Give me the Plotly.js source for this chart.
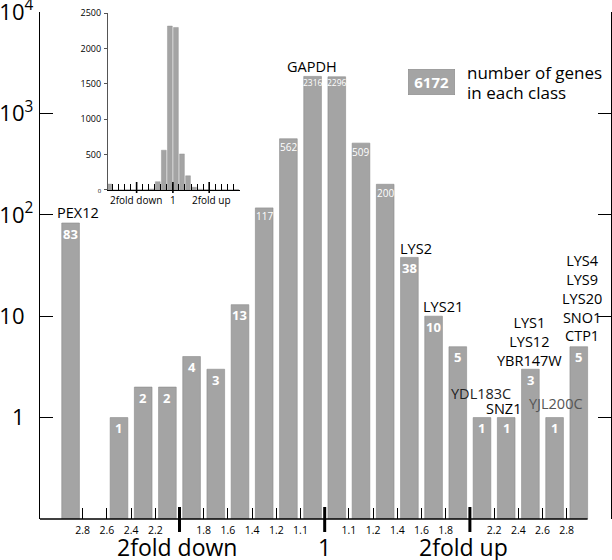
<!DOCTYPE html>
<html>
<head>
<meta charset="utf-8">
<script src="https://cdn.plot.ly/plotly-3.0.1.min.js"></script>
<style>html,body{margin:0;padding:0;background:#fff}#chart{width:612px;height:560px}</style>
</head>
<body>
<div id="chart"></div>
<script>
// ---------- DATA ----------
const binNames = ['>2.8 down','2.8-2.6 down','2.6-2.4 down','2.4-2.2 down','2.2-2.0 down','2.0-1.8 down','1.8-1.6 down','1.6-1.4 down','1.4-1.2 down','1.2-1.1 down','1.1-1.0 down','1.0-1.1 up','1.1-1.2 up','1.2-1.4 up','1.4-1.6 up','1.6-1.8 up','1.8-2.0 up','2.0-2.2 up','2.2-2.4 up','2.4-2.6 up','2.6-2.8 up','>2.8 up'];
const geneCounts = [83, 0, 1, 2, 2, 4, 3, 13, 117, 562, 2316, 2296, 509, 200, 38, 10, 5, 1, 1, 3, 1, 5];
const boundaryLabels = ['2.8','2.6','2.4','2.2','2fold down','1.8','1.6','1.4','1.2','1.1','1','1.1','1.2','1.4','1.6','1.8','2fold up','2.2','2.4','2.6','2.8'];
const majorBoundaries = ['2fold down','1','2fold up'];
const noteBins = [0, 10, 14, 15, 17, 18, 19, 20, 21];
const noteTexts = ['PEX12','GAPDH','LYS2','LYS21','YDL183C','SNZ1','LYS1<br>LYS12<br>YBR147W','YJL200C','LYS4<br>LYS9<br>LYS20<br>SNO1<br>CTP1'];
const logTickVals = [1, 10, 100, 1000, 10000];
const hid = '<sup style="color:rgba(0,0,0,0)">0</sup>';
const logTickText = ['1' + hid, '10' + hid, '10<sup>2</sup>', '10<sup>3</sup>', '10<sup>4</sup>'];
const insetTickVals = [0, 500, 1000, 1500, 2000, 2500];
const insetTickText = ['<span style="font-size:6px">0</span>', '500', '1000', '1500', '2000', '2500'];
const legendLines = ['number of genes', 'in each class'];

// ---------- STYLE ----------
const FONT = 'Open Sans, sans-serif';
const BAR = '#a4a4a4', BAR_LINE = '#8a8a8a';
const noteOffsets = [[7,11],[-1,10],[7,9],[9,10],[-1,24],[-3,9],[-1,28],[1,14],[3,48.5]];
const noteColors = ['#000','#000','#000','#000','#222','#000','#000','#555','#000'];
const mainRange = [-1.764, 21.831];
const insetRange = [-0.74, 21.07];
const mainBarWidth = 0.73, insetBarWidth = 0.8;
const legendLineY = [(519 - 73) / 507, (519 - 92) / 507];

const centers = geneCounts.map((_, i) => i - 0.5);
const boundaryPos = boundaryLabels.map((_, i) => i);
const majorPos = boundaryPos.filter(i => majorBoundaries.includes(boundaryLabels[i]) && [4,10,16].includes(i));
const minorPos = boundaryPos.filter(i => !majorPos.includes(i));
const total = geneCounts.reduce((a, b) => a + b, 0);

const traces = [
  {type:'bar', x:centers, y:geneCounts, width:mainBarWidth, hovertext:binNames, hoverinfo:'text+y',
   marker:{color:BAR, line:{color:BAR_LINE, width:0.6}}, xaxis:'x', yaxis:'y'},
  {type:'bar', x:centers, y:geneCounts, width:insetBarWidth, hoverinfo:'none',
   marker:{color:BAR, line:{color:BAR_LINE, width:0.4}}, xaxis:'x2', yaxis:'y2'}
];

const annotations = [];
geneCounts.forEach((v, i) => {
  if (v <= 0) return;
  const big = v >= 100;
  annotations.push({x:centers[i], y:Math.log10(v), xref:'x', yref:'y', text:String(v),
    showarrow:false, yanchor:'middle', yshift: big ? (v >= 1000 ? -6 : -8.5) : -10.5,
    font:{family:FONT, color:'#fff', size: big ? (v >= 1000 ? 8.5 : 10) : 13, weight: big ? 400 : 700}});
});
noteBins.forEach((b, k) => {
  annotations.push({x:centers[b], y:Math.log10(geneCounts[b]), xref:'x', yref:'y', text:noteTexts[k],
    showarrow:false, yanchor:'middle', xanchor:'center', xshift:noteOffsets[k][0], yshift:noteOffsets[k][1],
    font:{family:FONT, size:14.5, color:noteColors[k]}});
});
const bigShift = {'2fold down':-2, '1':0, '2fold up':-6};
const insetShift = {'2fold down':-1, '1':0, '2fold up':2};
majorPos.forEach(p => {
  annotations.push({x:p, y:-0.055, xref:'x', yref:'paper', text:boundaryLabels[p], showarrow:false,
    xanchor:'center', yanchor:'middle', xshift:bigShift[boundaryLabels[p]], font:{family:FONT, size:23, color:'#000'}});
  annotations.push({x:p, y:(519 - 200) / 507, xref:'x2', yref:'paper', text:boundaryLabels[p], showarrow:false,
    xanchor:'center', yanchor:'middle', xshift:insetShift[boundaryLabels[p]], font:{family:FONT, size:10, color:'#000'}});
});
annotations.push({x:0.6865, y:0.8617, xref:'paper', yref:'paper', text:'<b>' + total + '</b>', showarrow:false,
  xanchor:'center', yanchor:'middle', width:46, height:25, bgcolor:BAR, bordercolor:BAR_LINE, borderwidth:0.6, borderpad:0,
  font:{family:FONT, size:15, color:'#fff'}});
legendLines.forEach((t, k) => {
  annotations.push({x:0.744, y:legendLineY[k], xref:'paper', yref:'paper', text:t, showarrow:false,
    xanchor:'left', yanchor:'middle', align:'left', font:{family:FONT, size:17, color:'#000'}});
});

const shapes = [];
shapes.push({type:'line', xref:'x', yref:'paper', x0:mainRange[0], x1:centers[centers.length-1] + mainBarWidth/2, y0:0, y1:0, line:{color:'#000', width:1.3}});
majorPos.forEach(p => {
  shapes.push({type:'line', xref:'x', yref:'paper', x0:p, x1:p, y0:0.0237, y1:-0.0256, line:{color:'#000', width:3}});
  shapes.push({type:'line', xref:'x2', yref:'paper', x0:p, x1:p, y0:(519-182)/507, y1:(519-193)/507, line:{color:'#000', width:1.6}});
});

const layout = {
  width:612, height:560, margin:{l:40, r:1, t:12, b:41},
  paper_bgcolor:'#fff', plot_bgcolor:'#fff', showlegend:false, bargap:0,
  font:{family:FONT, color:'#000'},
  xaxis:{domain:[0,1], range:mainRange, showgrid:false, zeroline:false, showline:false,
    tickmode:'array', tickvals:minorPos, ticktext:minorPos.map(i => boundaryLabels[i]),
    ticks:'inside', ticklen:11, tickwidth:1, tickcolor:'#000', ticklabelstandoff:3,
    tickfont:{family:FONT, size:10.5, color:'#000'}, fixedrange:true},
  yaxis:{domain:[0,1], type:'log', range:[-1, 4], showgrid:false, zeroline:false,
    showline:true, linecolor:'#000', linewidth:1.3, mirror:'ticks',
    tickmode:'array', tickvals:logTickVals, ticktext:logTickText, ticklabeloverflow:'allow',
    ticks:'inside', ticklen:13, tickwidth:1.3, tickcolor:'#000', ticklabelstandoff:1,
    tickfont:{family:FONT, size:22, color:'#000'}, fixedrange:true},
  xaxis2:{domain:[0.119, 0.350], anchor:'y2', range:insetRange, showgrid:false, zeroline:false,
    showline:true, linecolor:'#000', linewidth:1, tickmode:'array', tickvals:boundaryPos,
    ticks:'inside', ticklen:6, tickwidth:1, tickcolor:'#000', showticklabels:false, fixedrange:true},
  yaxis2:{domain:[0.649, 0.998], anchor:'x2', range:[0, 2500], showgrid:false, zeroline:false,
    showline:true, linecolor:'#555', linewidth:1, tickmode:'array', tickvals:insetTickVals, ticktext:insetTickText,
    ticks:'outside', ticklen:3, tickwidth:1, tickcolor:'#555', ticklabelstandoff:1,
    tickfont:{family:FONT, size:9, color:'#000'}, fixedrange:true},
  annotations, shapes
};

Plotly.newPlot('chart', traces, layout, {staticPlot:true, displayModeBar:false});
</script>
</body>
</html>
